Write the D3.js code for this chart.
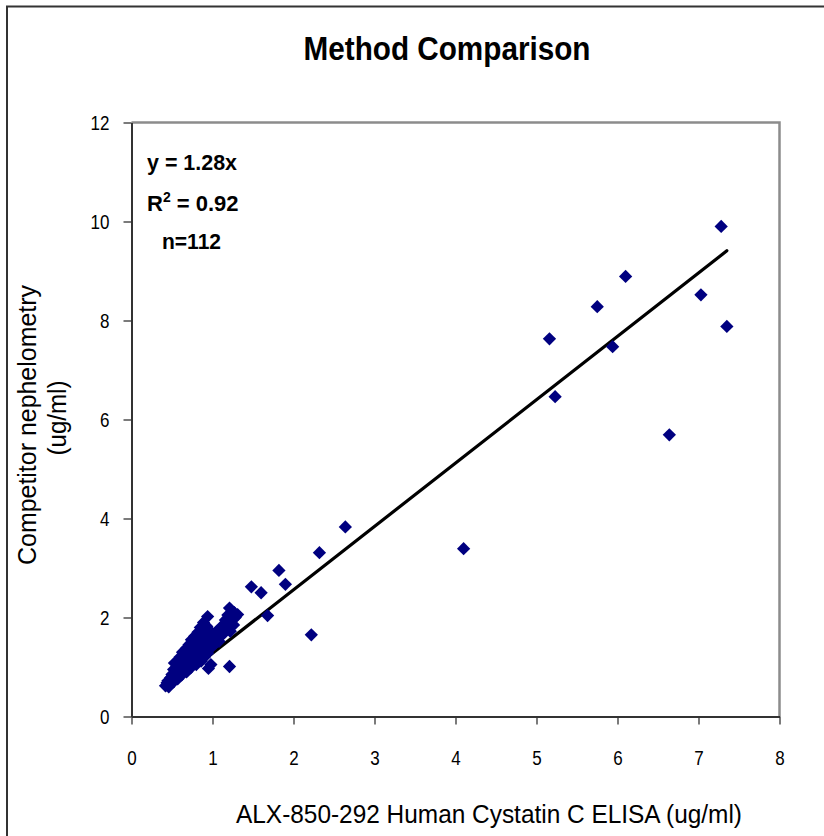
<!DOCTYPE html>
<html lang="en">

<head>
    <meta charset="UTF-8">
    <title>Method Comparison</title>
    <script src="https://d3js.org/d3.v7.min.js"></script>
    <style>
        body,
        html {
            margin: 0px;
            background: #fff;
        }

        text {
            font-family: "Liberation Sans Narrow", "Liberation Sans", Arial, sans-serif;
            fill: #000;
        }
    </style>
</head>

<body>
    <div id="chart"></div>

    <script>
        // ELISA (x) vs nephelometry (y)
        const elisa = [
            7.28, 6.10, 5.75, 7.03, 5.16, 7.35, 5.94, 5.23, 6.64,
            2.64, 4.10, 2.32, 1.82, 1.48, 1.90, 1.60, 1.68, 2.22,
            1.21, 1.31, 0.94, 0.95, 0.98, 1.21,
            0.42, 0.44, 0.45, 0.46, 0.47, 0.48, 0.50, 0.50, 0.52, 0.52, 0.53, 0.54,
            0.55, 0.56, 0.57, 0.58, 0.58, 0.59, 0.60, 0.60, 0.62, 0.62, 0.63, 0.64,
            0.65, 0.66, 0.67, 0.68, 0.68, 0.69, 0.70, 0.70, 0.71, 0.72, 0.73, 0.73,
            0.74, 0.75, 0.75, 0.76, 0.77, 0.78, 0.78, 0.79, 0.80, 0.80, 0.81, 0.82,
            0.82, 0.83, 0.84, 0.85, 0.85, 0.86, 0.87, 0.88, 0.88, 0.89, 0.90, 0.90,
            0.91, 0.92, 0.93, 0.94, 0.95, 0.96, 0.97, 0.98, 1.00, 1.00, 1.02, 1.04,
            1.05, 1.07, 1.08, 1.10, 1.12, 1.13, 1.15, 1.16, 1.18, 1.19, 1.20, 1.22,
            1.24, 1.26, 1.27, 1.28
        ]
        const nephelometry = [
            9.90, 8.89, 8.28, 8.52, 7.63, 7.88, 7.47, 6.46, 5.69,
            3.83, 3.39, 3.31, 2.95, 2.62, 2.67, 2.50, 2.04, 1.65,
            2.19, 2.06, 2.02, 0.97, 1.05, 1.01,
            0.62, 0.68, 0.72, 0.60, 0.66, 0.78, 0.74, 0.85, 0.95, 0.70, 1.08, 0.80,
            0.90, 1.00, 0.76, 1.12, 0.80, 0.88, 0.98, 1.20, 0.84, 1.08, 1.30, 0.95,
            1.15, 1.02, 1.25, 0.90, 1.38, 1.10, 1.00, 1.20, 1.45, 1.30, 0.98, 1.12,
            1.55, 1.40, 1.22, 1.05, 1.32, 1.62, 1.15, 1.48, 1.25, 1.05, 1.38, 1.70,
            1.55, 1.18, 1.30, 1.45, 1.80, 1.12, 1.62, 1.25, 1.38, 1.90, 1.52, 1.20,
            1.70, 1.35, 1.82, 1.28, 1.45, 1.60, 1.38, 1.50, 1.42, 1.68, 1.55, 1.48,
            1.72, 1.60, 1.52, 1.78, 1.65, 1.85, 1.70, 1.95, 1.78, 2.05, 1.88, 1.72,
            1.95, 1.85, 2.10, 2.00
        ]
        const xTicks = [0, 1, 2, 3, 4, 5, 6, 7, 8]
        const yTicks = [0, 2, 4, 6, 8, 10, 12]
        const slope = 1.28
        const fitRange = [0.42, 7.35]

        const points = elisa.map((x, i) => ({ x: x, y: nephelometry[i] }))

        const width = 824, height = 836
        const plot = { left: 131.5, right: 779.5, top: 122.5, bottom: 716.5 }

        const svg = d3.select("#chart")
            .append("svg")
            .attr("width", width)
            .attr("height", height)

        // outer frame of the figure
        svg.append("path")
            .attr("d", `M7,${height} V6.5 H${width}`)
            .attr("fill", "none")
            .attr("stroke", "#333")
            .attr("stroke-width", 2)

        const x = d3.scaleLinear().domain([0, 8]).range([plot.left, plot.right])
        const y = d3.scaleLinear().domain([0, 12]).range([plot.bottom, plot.top])

        // plot box: grey top/right
        svg.append("path")
            .attr("d", `M${plot.left},${plot.top} H${plot.right} V${plot.bottom}`)
            .attr("fill", "none")
            .attr("stroke", "#8c8c8c")
            .attr("stroke-width", 2.5)

        const xAxis = svg.append("g")
            .attr("transform", `translate(0,${plot.bottom})`)
            .call(d3.axisBottom(x).tickValues(xTicks).tickSize(8).tickSizeOuter(0).tickPadding(26))
        const yAxis = svg.append("g")
            .attr("transform", `translate(${plot.left},0)`)
            .call(d3.axisLeft(y).tickValues(yTicks).tickSize(8).tickSizeOuter(0).tickPadding(14))

        for (const g of [xAxis, yAxis]) {
            g.select(".domain").attr("stroke", "#333").attr("stroke-width", 2)
            g.selectAll(".tick line").attr("stroke", "#333").attr("stroke-width", 1.3)
            g.selectAll(".tick text")
                .style("font-family", '"Liberation Sans Narrow", "Liberation Sans", Arial, sans-serif')
                .style("font-size", "20px")
                .attr("fill", "#000")
                // the original digits are a little narrow
                .attr("textLength", function () { return this.getComputedTextLength() * 0.85 })
                .attr("lengthAdjust", "spacingAndGlyphs")
        }
        xAxis.selectAll(".tick text").attr("dy", "0.71em")
        yAxis.selectAll(".tick text").attr("dy", "0.36em")

        // trend line y = 1.28x
        svg.append("line")
            .attr("x1", x(fitRange[0]))
            .attr("y1", y(slope * fitRange[0]))
            .attr("x2", x(fitRange[1]))
            .attr("y2", y(slope * fitRange[1]))
            .attr("stroke", "#000")
            .attr("stroke-width", 3.2)
            .attr("stroke-linecap", "round")

        const diamond = d3.symbol().type(d3.symbolSquare).size(88)

        svg.append("g")
            .selectAll("path")
            .data(points)
            .join("path")
            .attr("d", diamond)
            .attr("transform", d => `translate(${x(d.x)},${y(d.y)}) rotate(45)`)
            .attr("fill", "#000080")

        // title
        svg.append("text")
            .attr("x", 447)
            .attr("y", 60)
            .attr("text-anchor", "middle")
            .attr("textLength", 287)
            .attr("lengthAdjust", "spacingAndGlyphs")
            .style("font-size", "34px")
            .style("font-weight", "bold")
            .text("Method Comparison")

        // equation box
        const eq = svg.append("g").style("font-weight", "bold").style("font-size", "22px")
        eq.append("text")
            .attr("x", 147).attr("y", 170)
            .attr("textLength", 90).attr("lengthAdjust", "spacingAndGlyphs")
            .text("y = 1.28x")
        const r2 = eq.append("text").attr("x", 147).attr("y", 211)
        r2.append("tspan").text("R")
        r2.append("tspan").attr("dy", -9).style("font-size", "14px").text("2")
        r2.append("tspan").attr("dy", 9).text(" = 0.92")
        eq.append("text")
            .attr("x", 162).attr("y", 249)
            .attr("textLength", 59).attr("lengthAdjust", "spacingAndGlyphs")
            .text("n=112")

        // axis titles
        svg.append("text")
            .attr("x", 489)
            .attr("y", 823)
            .attr("text-anchor", "middle")
            .attr("textLength", 506)
            .attr("lengthAdjust", "spacingAndGlyphs")
            .style("font-size", "25px")
            .text("ALX-850-292 Human Cystatin C ELISA (ug/ml)")

        svg.append("text")
            .attr("transform", "translate(36,425) rotate(-90)")
            .attr("text-anchor", "middle")
            .attr("textLength", 280)
            .attr("lengthAdjust", "spacingAndGlyphs")
            .style("font-size", "25px")
            .text("Competitor nephelometry")

        svg.append("text")
            .attr("transform", "translate(66,418) rotate(-90)")
            .attr("text-anchor", "middle")
            .attr("textLength", 75)
            .attr("lengthAdjust", "spacingAndGlyphs")
            .style("font-size", "25px")
            .text("(ug/ml)")
    </script>
</body>

</html>
